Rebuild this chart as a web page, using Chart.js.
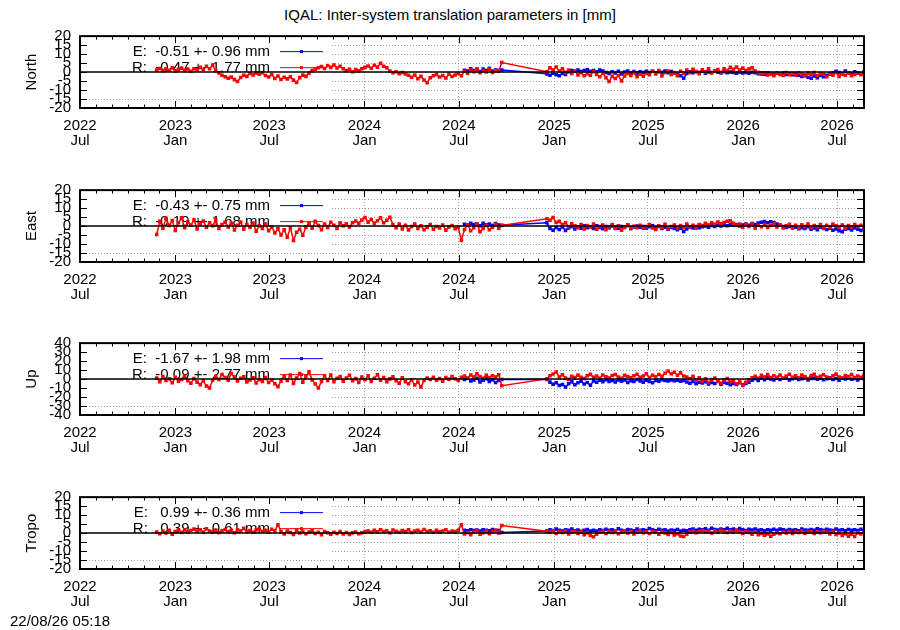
<!DOCTYPE html>
<html>
<head>
<meta charset="utf-8">
<title>IQAL inter-system translation parameters</title>
<script src="https://cdn.jsdelivr.net/npm/chart.js@4.4.1/dist/chart.umd.min.js"></script>
<style>
  html, body { margin: 0; padding: 0; background: #fff; }
  #page { position: relative; width: 900px; height: 630px; overflow: hidden;
          font-family: 'Liberation Sans', Arial, sans-serif; color: #000; }
  #title { position: absolute; left: 0; top: 6px; width: 900px; text-align: center; font-size: 15px; }
  #stamp { position: absolute; left: 10px; top: 612px; font-size: 15px; }
  canvas { position: absolute; left: 0; }
</style>
</head>
<body>
<div id="page">
  <div id="title">IQAL: Inter-system translation parameters in [mm]</div>
  <canvas id="c0" width="900" height="154" style="top:20px"></canvas>
  <canvas id="c1" width="900" height="154" style="top:174px"></canvas>
  <canvas id="c2" width="900" height="154" style="top:327px"></canvas>
  <canvas id="c3" width="900" height="154" style="top:481px"></canvas>
  <div id="stamp">22/08/26 05:18</div>
</div>
<script>
// time axis
const AXIS_START = '2022-07-01';
const AXIS_END = '2026-08-22';
const SEG1_START = '2022-11-26';   // first sample
const SEG2_START = '2024-12-18';   // first sample after the gap
const STEP_DAYS = 6;
const BLUE_SEG1_OFFSET = 99;       // E series starts at sample #99 of segment 1

const tickDates = ['2022-07-01', '2023-01-01', '2023-07-01', '2024-01-01', '2024-07-01',
                   '2025-01-01', '2025-07-01', '2026-01-01', '2026-07-01'];
const tickYears = ['2022', '2023', '2023', '2024', '2024', '2025', '2025', '2026', '2026'];
const tickMonths = ['Jul', 'Jan', 'Jul', 'Jan', 'Jul', 'Jan', 'Jul', 'Jan', 'Jul'];

const panelNames = ['North', 'East', 'Up', 'Tropo'];
const panelRanges = [20, 20, 40, 20];
const panelSteps = [5, 5, 10, 5];
const keyE = ['E:  -0.51 +- 0.96 mm', 'E:  -0.43 +- 0.75 mm', 'E:  -1.67 +- 1.98 mm', 'E:   0.99 +- 0.36 mm'];
const keyR = ['R:  -0.47 +- 1.77 mm', 'R:  -0.19 +- 1.68 mm', 'R:  -0.09 +- 2.77 mm', 'R:   0.39 +- 0.61 mm'];

// North
const northR1 = [1.2, 2.0, 0.8, 1.8, 1.0, 2.4, 0.6, 1.5, 2.2, 0.9,
  1.7, 0.4, 1.9, 1.1, 2.6, 1.4, 3.2, 1.8, 3.9, 0.8,
  -0.5, -1.8, -2.6, -3.4, -2.8, -4.2, -5.2, -3.0, -1.8, -2.4,
  -0.8, -1.6, -0.6, -1.2, -0.4, -1.9, -2.8, -1.4, -3.6, -2.2,
  -4.1, -2.9, -3.8, -2.6, -4.6, -5.8, -3.1, -1.7, -2.4, -0.6,
  0.8, 1.6, 2.4, 3.1, 2.0, 3.6, 2.6, 3.9, 2.3, 3.2,
  1.8, 0.9, 1.6, 0.2, 1.4, 0.7, 1.8, 2.6, 3.4, 2.1,
  3.8, 2.7, 4.9, 3.2, 2.4, 0.6, -0.4, 0.2, -0.9, -0.3,
  -1.1, -1.8, -2.9, -1.6, -3.7, -2.4, -4.4, -5.9, -3.2, -2.1,
  -1.4, -2.8, -1.9, -3.3, -1.2, -2.5, -1.6, -0.8, -2.0, 0.4,
  -0.6, 1.2, 0.2, 1.8, -0.4, 0.9, 0.1, 1.6, -0.3, 0.8,
  0.5, 5.3];
const northR2 = [0.2, 2.4, 1.1, 2.8, 0.6, 1.9, -0.3, 1.2, -0.8, 0.4,
  -1.6, -0.2, -2.1, -0.9, -1.8, 0.3, -1.3, -2.6, -0.7, -3.1,
  -5.3, -2.4, -3.6, -1.9, -4.9, -2.2, -0.8, -1.9, -0.4, -2.6,
  -1.2, -2.3, -0.6, -1.5, 0.4, -1.1, 0.8, -2.2, -0.3, 0.6,
  -1.4, -0.2, -2.0, 0.5, -0.8, 1.1, -0.4, 1.6, 0.2, -0.9,
  1.3, 0.1, 1.8, -0.5, 0.7, 1.4, -0.2, 1.9, 0.9, 2.6,
  1.5, 2.8, 1.1, 2.2, 0.8, 1.7, 2.4, 0.6, -0.3, -1.2,
  -0.4, -1.6, -0.8, -2.0, -0.5, -1.3, -1.9, -0.2, -1.5, -0.7,
  -1.8, -0.4, -1.1, -2.2, -0.6, -1.4, -0.3, -1.9, -0.8, -1.2,
  -2.6, -0.9, -1.7, -0.2, -2.4, -1.0, -1.8, -0.5, -2.1, -1.3,
  -0.7, -1.5, -0.9];
const northE1 = [1.0, 0.6, 1.9, 0.8, 1.4, 0.3, 1.7, 0.9, 2.1, 0.5, 1.2, 0.8, 1.2];
const northE2 = [-1.0, -1.8, -0.6, -1.5, -2.0, -0.8, -1.3, 0.2, 0.9, 0.4,
  1.1, 0.3, 0.8, 1.3, 0.5, 0.9, 0.1, 1.2, 0.6, -0.3,
  -0.8, 0.2, -0.5, 0.4, -1.1, 0.0, 0.6, -0.4, 0.3, -0.6,
  0.1, -0.3, 0.5, -0.2, 0.4, -0.6, 0.2, -0.1, 0.6, -0.4,
  0.3, -0.5, -1.2, -2.1, -3.4, -0.8, 0.1, -0.4, 0.3, -0.2,
  0.4, -0.6, 0.1, -0.3, 0.5, -0.1, -0.5, 0.2, -0.4, 0.0,
  -0.3, -0.6, 0.1, -0.5, -0.2, -0.7, -0.1, -0.4, -0.9, -0.6,
  -1.2, -0.5, -1.0, -1.4, -0.7, -1.1, -0.6, -1.3, -0.9, -1.5,
  -1.1, -1.8, -2.4, -1.6, -2.9, -3.5, -2.2, -3.1, -1.9, -2.6,
  -1.8, -1.2, -0.6, 0.4, -0.3, -1.0, 0.6, -0.5, -1.3, 0.2,
  -0.4, -0.9, 0.1];

// East
const eastR1 = [-4.7, 2.6, -1.2, 4.4, 0.3, 3.1, -2.4, 1.8, 4.6, -0.9,
  2.2, 0.4, 3.5, -1.6, 1.3, 2.8, -0.7, 1.9, 0.2, 3.3,
  -1.4, 0.8, 2.1, -0.5, 1.6, -2.2, 0.4, 2.3, -1.8, 0.9,
  -0.6, 1.7, -2.9, 0.2, -1.3, 1.1, -2.6, -0.4, -3.8, -1.5,
  -4.9, -2.1, -6.2, -1.0, -8.0, -3.4, -1.8, -5.1, -0.6, 1.4,
  -1.2, 2.6, 0.3, -2.0, 1.2, -0.8, 2.1, 0.5, -1.4, 1.8,
  0.2, 1.3, -0.5, 1.9, 2.8, 1.6, 3.4, 4.8, 2.2, 3.7,
  1.5, 2.9, 4.6, 1.8, 3.2, 4.9, 0.8, -0.9, 1.2, -1.6,
  0.4, -2.2, -0.3, 1.1, -1.4, 0.2, -2.0, -0.6, 0.9, -1.8,
  -0.2, -1.1, 0.6, -2.3, -0.5, 0.3, -1.5, -0.8, -7.9, -1.9,
  0.7, -2.6, -0.9, 1.2, -3.2, -1.4, 0.5, -2.1, -0.6, 1.0,
  -1.2, 0.3];
const eastR2 = [4.1, 3.2, 4.8, 2.0, 2.6, 0.9, 1.8, -0.4, 1.3, 0.2,
  -0.9, 0.8, -1.6, 0.3, -0.5, 1.1, -1.8, -0.2, 0.6, -2.1,
  -0.4, 0.9, -1.3, 0.1, -2.3, -0.6, 0.7, -1.5, -0.1, -0.9,
  0.5, -1.2, -0.3, 0.8, -1.0, -1.9, 0.2, -0.6, 1.0, -1.4,
  -0.3, 0.6, -1.1, 0.3, -0.8, 1.2, -0.4, 0.5, -1.2, 0.9,
  0.3, 1.5, 0.6, 1.9, 1.0, 2.3, 1.4, 2.0, 2.7, 3.0,
  1.6, 0.4, 1.2, -0.6, 0.8, -0.3, 1.1, -1.2, 0.5, -0.4,
  0.9, -0.8, 0.3, 1.3, -0.5, 0.6, -1.0, 0.2, 1.0, -0.7,
  0.4, -1.3, 0.7, -0.2, 1.1, -0.9, 0.3, -0.4, 0.8, -1.1,
  0.5, -0.6, 1.2, 0.1, -0.8, 0.6, -1.4, 0.3, -0.5, 0.9,
  -0.2, 0.4, -0.9];
const eastE1 = [1.0, 0.4, 1.5, 0.8, 1.2, 0.2, 1.6, 0.7, 1.1, 0.3, 1.4, 0.6, 0.5];
const eastE2 = [1.8, -1.4, -2.3, -0.8, -1.9, -0.5, -2.4, -1.1, -0.3, -1.6,
  -0.7, -1.2, 0.1, -0.9, -0.4, -1.3, 0.2, -0.8, -1.5, -0.3,
  -0.9, 0.1, -0.6, -1.2, -0.2, -0.8, 0.3, -1.0, -0.5, 0.0,
  -0.7, -0.2, -1.1, -0.4, 0.2, -0.9, -0.3, -1.3, -0.6, -1.8,
  -0.8, -1.4, -2.1, -1.2, -3.0, -1.6, -0.7, -1.1, -0.2, -0.9,
  -0.4, 0.1, -0.6, 0.3, -0.2, 0.5, 0.0, 0.6, 0.2, 0.8,
  0.4, 0.9, 0.1, 0.6, 1.1, 0.5, 1.4, 0.9, 1.7, 2.1,
  2.5, 1.8, 2.4, 2.0, 1.2, 0.6, -0.2, -0.8, -0.3, -1.1,
  -0.6, -1.5, -0.9, -1.3, -0.4, -1.8, -1.0, -2.1, -0.7, -1.4,
  -1.9, -1.2, -2.3, -1.6, -2.6, -3.1, -1.8, -1.3, -2.2, -1.0,
  -1.7, -2.4, -1.5];

// Up
const upR1 = [1.2, -3.1, 2.8, -1.6, 0.4, -4.2, 1.9, -2.3, -0.5, 3.0,
  -1.8, -4.6, 0.6, -3.4, -6.2, -2.0, -7.8, -9.8, -1.4, 3.2,
  -0.6, 5.1, 1.8, -1.2, 6.3, 2.4, -2.1, 0.9, 2.6, -3.2,
  -1.1, 1.5, -4.3, -0.4, -2.6, 1.8, -3.9, -1.0, -5.2, -8.4,
  -2.3, 3.1, -1.7, 4.6, -4.8, 1.2, 6.1, -3.5, 2.7, 8.2,
  -0.9, -5.4, -9.9, -2.8, 3.8, -1.5, 4.4, -3.1, 0.8, 2.9,
  -2.4, 1.1, 4.3, -1.9, 0.5, -3.8, 2.2, -0.7, 3.6, -2.6,
  0.9, 4.8, -1.3, 1.7, -3.0, 0.2, 2.5, -1.8, -4.6, 1.4,
  -2.9, -5.3, -0.8, -6.7, -3.2, -8.9, -1.6, 1.3, -0.5, 2.1,
  -1.2, 0.6, -2.4, 1.8, -0.3, 2.7, 0.4, -1.5, 1.9, 3.3,
  1.0, 4.6, 2.2, 5.8, 2.9, 0.8, 4.1, 1.6, 3.8, 2.4,
  4.9, -7.4];
const upR2 = [0.2, 3.8, 5.6, 7.8, 2.4, 4.9, 1.1, -0.5, 3.2, 1.6,
  4.4, 2.1, 0.6, 3.7, 5.2, 1.9, 3.4, 0.8, 4.6, 2.5,
  1.2, 3.9, 5.0, 2.3, 0.9, 4.1, 2.8, 1.5, 3.6, 5.4,
  2.0, 3.3, 5.9, 1.8, 4.2, 2.6, 5.1, 3.0, 6.4, 8.9,
  5.8, 7.6, 4.3, 6.9, 3.5, 2.2, 0.4, 3.1, -1.4, 1.5,
  -2.6, 0.3, -3.8, -0.9, 1.2, -2.4, -4.6, -1.0, 0.6, -3.3,
  -1.8, -5.2, -2.9, -7.1, -3.6, -0.7, 1.4, 3.2, 0.8, 4.1,
  2.3, 5.0, 1.6, 3.7, 2.1, 4.6, 0.9, 3.3, 5.4, 2.0,
  3.8, 1.2, 4.5, 2.6, 0.7, 3.9, 5.2, 1.8, 3.1, 4.7,
  2.2, 0.9, 3.6, 5.5, 2.4, 1.1, 4.0, 2.7, 5.1, 1.6,
  3.4, 2.0, 4.2];
const upE1 = [-0.5, 0.8, -2.1, -0.9, 1.0, -3.2, -1.4, 0.3, -2.6, -0.8, -3.8, -1.5, -0.6];
const upE2 = [-0.6, -3.4, -5.8, -4.2, -7.1, -6.0, -8.9, -5.3, -3.1, -6.4,
  -4.0, -2.5, -5.6, -3.8, -6.9, -2.2, -3.5, -1.4, -2.9, -0.8,
  -2.6, -1.7, -3.2, -0.9, -2.3, -1.1, -3.7, -1.9, -2.8, -0.6,
  -2.1, -3.4, -1.3, -2.7, -4.0, -1.6, -2.4, -0.8, -1.5, -2.2,
  -0.9, -1.8, -1.2, -2.5, -1.6, -3.3, -4.7, -2.8, -5.1, -3.6,
  -4.4, -2.9, -5.5, -3.8, -4.9, -2.6, -5.8, -3.9, -4.6, -6.2,
  -4.8, -5.9, -4.1, -6.6, -5.0, -3.4, -1.2, 0.4, -1.6, 0.9,
  -0.7, 1.6, 0.2, -1.1, 1.3, -0.4, 0.8, 1.9, -0.9, 0.5,
  1.4, -0.6, 0.3, 1.7, -1.0, 0.6, 1.2, -0.3, 0.9, -0.8,
  0.4, 1.5, -0.5, 0.7, -1.3, 1.0, 0.1, 1.8, -0.2, 0.6,
  -0.9, 1.1, 0.3];

// Tropo
const tropoR1 = [0.6, -0.4, 1.2, 0.1, 1.5, -0.6, 0.8, 1.6, 0.3, 1.9,
  0.7, 1.4, 2.2, 0.9, 1.8, 0.5, 2.4, 1.2, 0.6, 1.7,
  0.3, 1.3, 2.0, 0.8, 1.5, 0.2, 1.9, 1.1, 2.6, 0.7,
  1.4, 0.4, 1.8, 2.3, 0.9, 1.6, 0.5, 2.1, 1.3, 4.6,
  0.8, -0.5, 1.2, 0.3, -0.8, 1.6, 0.1, 0.9, -0.4, 0.6,
  1.3, -0.2, 0.4, -0.9, 0.8, 0.2, -0.6, 0.5, -0.3, 0.9,
  -0.5, 0.3, -0.8, 0.1, 0.6, -0.4, 0.2, 0.8, 1.1, 0.4,
  1.5, 0.7, 1.9, 0.9, 1.3, 0.2, 1.7, 1.0, 0.5, 1.4,
  0.8, 1.8, 0.3, 1.2, 1.6, 0.6, 2.0, 0.9, 1.3, 0.4,
  1.5, 0.7, 1.1, 1.9, 0.5, 1.2, 0.8, 1.6, 4.6, -0.5,
  0.3, -0.9, 0.6, 1.4, -0.6, 0.2, 1.1, -0.4, 0.7, 1.5,
  0.1, 4.2];
const tropoR2 = [1.0, 0.4, 1.3, -0.2, 0.8, 0.3, 1.1, -0.5, 0.6, 0.9,
  -0.3, 0.7, -0.9, 0.2, -1.4, -2.0, -0.6, 0.4, 1.0, -0.2,
  0.8, 0.3, 1.2, -0.4, 0.6, 1.1, 0.0, 0.9, -0.5, 0.5,
  1.3, 0.2, 0.7, -0.3, 1.0, 0.4, -0.6, 0.8, 0.1, -0.8,
  0.3, -1.1, -0.4, -1.6, -1.9, -0.7, 0.5, 1.2, 0.2, 0.9,
  1.4, 0.6, 1.0, 0.1, 1.3, 0.5, 1.6, 0.8, 0.3, 1.1,
  0.4, 1.5, 0.7, -0.2, 0.9, 0.3, -0.6, 0.5, -0.9, -0.3,
  -1.2, -0.5, -1.8, -0.7, 0.2, -0.4, 0.6, 0.1, 0.9, -0.2,
  0.7, 0.3, 1.1, -0.1, 0.5, 0.9, -0.3, 0.6, 0.2, 1.0,
  0.4, -0.5, 0.8, -0.8, 0.1, -1.3, -0.4, -1.7, -0.6, -1.9,
  0.2, -0.5, 0.6];
const tropoE1 = [1.6, 1.3, 1.9, 1.4, 1.7, 1.2, 1.8, 1.5, 1.3, 2.0, 1.6, 1.4, 0.3];
const tropoE2 = [1.1, 1.8, 1.4, 2.2, 1.6, 1.2, 1.9, 1.5, 2.3, 1.3,
  1.7, 1.0, 1.5, 2.0, 1.2, 1.6, 1.1, 1.8, 1.4, 2.1,
  1.5, 1.9, 1.3, 2.4, 1.6, 1.2, 2.0, 1.7, 1.3, 2.2,
  1.6, 1.9, 1.4, 2.5, 1.8, 1.3, 2.1, 1.5, 1.9, 1.2,
  1.7, 1.4, 2.0, 1.1, 1.6, 1.3, 1.9, 2.3, 1.5, 2.1,
  1.8, 2.4, 1.6, 2.7, 2.0, 1.7, 2.3, 1.9, 2.6, 1.8,
  2.2, 1.6, 2.5, 1.9, 1.4, 2.1, 1.7, 2.3, 1.5, 1.9,
  1.3, 1.8, 1.5, 2.1, 1.6, 2.2, 1.8, 1.4, 2.0, 1.6,
  1.9, 1.3, 2.2, 1.7, 1.5, 2.0, 1.6, 2.4, 1.8, 1.5,
  2.1, 1.7, 1.4, 2.3, 1.6, 1.9, 1.3, 2.0, 1.5, 1.8,
  1.4, 2.1, 1.6];

const redSeries = [[northR1, northR2], [eastR1, eastR2], [upR1, upR2], [tropoR1, tropoR2]];
const blueSeries = [[northE1, northE2], [eastE1, eastE2], [upE1, upE2], [tropoE1, tropoE2]];

const FONT_FAMILY = "'Liberation Sans', Arial, sans-serif";
const FONT_SIZE = 15;
const GRID_COLOR = '#a0a0a0';
const GRID_DASH = [1, 2];
const KEY_RIGHT = 331;

function dayOf(s) {
    return Math.round((Date.parse(s) - Date.parse(AXIS_START)) / 86400000);
}

function toPoints(start, vals, offset) {
    const d0 = dayOf(start);
    return vals.map((v, i) => ({x: d0 + (offset + i) * STEP_DAYS, y: v}));
}

const majorDays = tickDates.map(dayOf);

// monthly minor ticks
const minorDays = [];
for (let d = new Date(AXIS_START + 'T00:00:00Z'); d <= new Date(AXIS_END + 'T00:00:00Z'); d.setUTCMonth(d.getUTCMonth() + 1)) {
    minorDays.push(dayOf(d.toISOString().slice(0, 10)));
}

function hline(ctx, x1, x2, y) {
    ctx.beginPath(); ctx.moveTo(x1, y); ctx.lineTo(x2, y); ctx.stroke();
}
function vline(ctx, x, y1, y2) {
    ctx.beginPath(); ctx.moveTo(x, y1); ctx.lineTo(x, y2); ctx.stroke();
}

const gnuplotFrame = {
    id: 'gnuplotFrame',
    beforeDatasetsDraw(chart, args, opts) {
        const {ctx, chartArea: a, scales: {y}} = chart;
        ctx.save();
        // opaque key box
        ctx.fillStyle = '#fff';
        ctx.fillRect(a.left, a.top, KEY_RIGHT - a.left, a.bottom - a.top);
        ctx.strokeStyle = GRID_COLOR;
        ctx.lineWidth = 1;
        ctx.setLineDash(GRID_DASH);
        const gy = Math.round(y.getPixelForValue(y.min + opts.step)) + 0.5;
        hline(ctx, a.left, KEY_RIGHT, gy);
        ctx.setLineDash([]);

        ctx.font = FONT_SIZE + 'px ' + FONT_FAMILY;
        ctx.textAlign = 'right';
        ctx.textBaseline = 'middle';
        opts.keys.forEach((k, i) => {
            const ky = a.top + 16 + i * 16;
            ctx.fillStyle = '#000';
            ctx.fillText(k.text, 270, ky);
            ctx.strokeStyle = k.color;
            hline(ctx, 280, 323, ky - 0.5);
            ctx.fillStyle = k.color;
            ctx.fillRect(300, ky - 2, 3, 3);
        });
        ctx.restore();
    },
    afterDatasetsDraw(chart) {
        const {ctx, chartArea: a, scales: {x, y}} = chart;
        ctx.save();
        ctx.strokeStyle = '#000';
        // zero axis
        ctx.lineWidth = 1.5;
        hline(ctx, a.left, a.right, y.getPixelForValue(0));
        // ticks, inward
        ctx.lineWidth = 1;
        y.ticks.forEach(t => {
            const py = Math.round(y.getPixelForValue(t.value)) + 0.5;
            hline(ctx, a.left, a.left + 7, py);
            hline(ctx, a.right - 7, a.right, py);
        });
        minorDays.forEach(d => {
            const px = Math.round(x.getPixelForValue(d)) + 0.5;
            const len = majorDays.includes(d) ? 7 : 3.5;
            vline(ctx, px, a.top, a.top + len);
            vline(ctx, px, a.bottom - len, a.bottom);
        });
        // border
        ctx.lineWidth = 2;
        ctx.strokeRect(a.left, a.top, a.right - a.left, a.bottom - a.top);
        ctx.restore();
    }
};

panelNames.forEach((name, p) => {
    const red = toPoints(SEG1_START, redSeries[p][0], 0).concat(toPoints(SEG2_START, redSeries[p][1], 0));
    const blue = toPoints(SEG1_START, blueSeries[p][0], BLUE_SEG1_OFFSET).concat(toPoints(SEG2_START, blueSeries[p][1], 0));
    const font = {family: FONT_FAMILY, size: FONT_SIZE, lineHeight: 0.95};

    new Chart(document.getElementById('c' + p), {
        type: 'scatter',
        data: {
            datasets: [
                {label: 'R', data: red, showLine: true, borderColor: '#ff0000', backgroundColor: '#ff0000',
                 borderWidth: 1.5, pointStyle: 'rect', pointRadius: 2.5, pointBorderWidth: 0, tension: 0, order: 0},
                {label: 'E', data: blue, showLine: true, borderColor: '#0000ff', backgroundColor: '#0000ff',
                 borderWidth: 1.5, pointStyle: 'rect', pointRadius: 2.5, pointBorderWidth: 0, tension: 0, order: 1}
            ]
        },
        options: {
            responsive: false,
            animation: false,
            events: [],
            layout: {padding: {top: 10, right: 36, left: 0, bottom: 0}},
            plugins: {
                legend: {display: false},
                tooltip: {enabled: false},
                gnuplotFrame: {
                    step: panelSteps[p],
                    keys: [{text: keyE[p], color: '#0000ff'}, {text: keyR[p], color: '#ff0000'}]
                }
            },
            scales: {
                x: {
                    type: 'linear',
                    min: 0,
                    max: dayOf(AXIS_END),
                    afterBuildTicks: s => { s.ticks = majorDays.map(v => ({value: v})); },
                    afterFit: s => { s.height = 66; },
                    ticks: {
                        autoSkip: false, maxRotation: 0, color: '#000', padding: 11, font: font,
                        callback: (v, i) => [tickYears[i], tickMonths[i]]
                    },
                    grid: {color: GRID_COLOR, drawTicks: false},
                    border: {display: false, dash: GRID_DASH}
                },
                y: {
                    min: -panelRanges[p],
                    max: panelRanges[p],
                    afterFit: s => { s.width = 80; },
                    ticks: {stepSize: panelSteps[p], autoSkip: false, color: '#000', padding: 9, font: font},
                    grid: {color: GRID_COLOR, drawTicks: false},
                    border: {display: false, dash: GRID_DASH},
                    title: {display: true, text: name, color: '#000', padding: {top: 23, bottom: 0},
                            font: {family: FONT_FAMILY, size: FONT_SIZE}}
                }
            }
        },
        plugins: [gnuplotFrame]
    });
});
</script>
</body>
</html>
